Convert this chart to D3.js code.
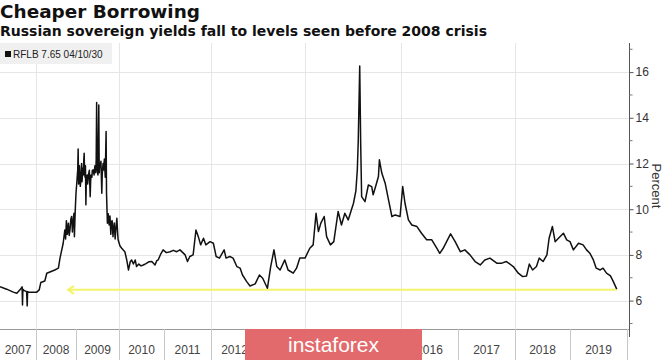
<!DOCTYPE html>
<html>
<head>
<meta charset="utf-8">
<script src="https://cdn.jsdelivr.net/npm/d3@7/dist/d3.min.js"></script>
<style>
  html, body { margin: 0; padding: 0; background: #fff; }
  svg { display: block; font-family: "Liberation Sans", Arial, sans-serif; }
</style>
</head>
<body>
<svg id="chart" width="665" height="360"></svg>
<script>
// ---------- DATA ----------
const title = "Cheaper Borrowing";
const subtitle = "Russian sovereign yields fall to levels seen before 2008 crisis";
const seriesName = "RFLB 7.65 04/10/30";
const yAxisTitle = "Percent";
const watermarkText = "instaforex";
const yearLabels = ["2007","2008","2009","2010","2011","2012","2013","2014","2015","2016","2017","2018","2019"];
const yMajorTicks = [6, 8, 10, 12, 14, 16];
const yMinorTicks = [5, 7, 9, 11, 13, 15, 17];
const gridYears = [2008, 2010, 2012, 2014, 2016, 2018];

// decimal year
const dates = [
  2007.08,2007.25,2007.42,2007.51,2007.59,2007.645,2007.655,2007.665,2007.69,2007.76,2007.775,2007.785,2007.80,
  2008.02,2008.08,2008.12,2008.22,2008.27,2008.47,2008.56,2008.60,2008.68,2008.72,2008.74,2008.76,2008.78,2008.79,2008.81,2008.83,2008.85,
  2008.87,2008.89,2008.91,2008.92,2008.94,2008.95,2008.96,2008.98,2009.00,2009.02,2009.04,2009.05,2009.06,2009.07,2009.08,2009.09,2009.10,2009.12,2009.13,2009.14,2009.16,2009.17,2009.18,2009.19,
  2009.20,2009.21,2009.22,2009.23,2009.24,2009.26,2009.27,2009.29,2009.31,2009.33,2009.34,2009.35,2009.37,2009.38,2009.40,2009.42,2009.44,2009.46,2009.47,2009.48,2009.49,2009.51,2009.53,2009.54,2009.55,2009.56,2009.58,2009.60,2009.61,2009.62,
  2009.63,2009.64,2009.66,2009.68,2009.70,2009.71,2009.73,2009.75,2009.77,2009.79,2009.81,2009.82,2009.84,2009.86,2009.87,2009.89,2009.91,2009.93,2009.95,2009.97,2009.98,
  2010.02,2010.06,2010.10,2010.13,2010.17,2010.21,2010.25,2010.28,2010.32,2010.36,2010.39,2010.44,2010.49,2010.54,2010.60,2010.66,2010.73,2010.80,2010.84,2010.87,2010.93,2010.98,
  2011.05,2011.13,2011.20,2011.27,2011.34,2011.45,2011.50,2011.55,2011.62,2011.68,2011.73,2011.78,2011.84,2011.89,2011.98,
  2012.05,2012.11,2012.18,2012.28,2012.32,2012.40,2012.47,2012.55,2012.62,2012.67,2012.76,2012.83,2012.94,
  2013.03,2013.10,2013.20,2013.27,2013.34,2013.40,2013.47,2013.57,2013.64,2013.75,2013.82,2013.89,
  2014.00,2014.10,2014.17,2014.23,2014.28,2014.33,2014.40,2014.45,2014.53,2014.60,2014.69,2014.76,2014.83,2014.90,
  2015.01,2015.06,2015.09,2015.11,2015.14,2015.16,2015.18,2015.25,2015.32,2015.39,2015.42,2015.48,2015.53,2015.55,2015.60,
  2015.67,2015.74,2015.81,2015.88,2015.98,
  2016.03,2016.07,2016.13,2016.19,2016.28,2016.36,2016.45,2016.54,2016.63,2016.68,2016.74,2016.80,2016.87,2016.95,
  2017.04,2017.12,2017.21,2017.30,2017.39,2017.47,2017.56,2017.68,2017.77,2017.85,2017.97,
  2018.06,2018.14,2018.21,2018.26,2018.32,2018.39,2018.44,2018.51,2018.58,2018.62,2018.68,2018.73,2018.79,2018.88,2018.94,
  2019.00,2019.06,2019.15,2019.23,2019.29,2019.35,2019.41,2019.46,2019.53,2019.58,2019.64,2019.71,2019.76,2019.82
];
const yields = [
  6.61,6.50,6.37,6.32,6.47,6.60,5.81,6.50,6.45,6.39,5.77,6.40,6.38,
  6.37,6.47,6.79,6.86,7.20,7.34,7.42,7.86,8.51,9.09,8.70,9.50,8.90,9.00,9.39,8.85,9.10,
  9.55,9.68,9.00,9.30,9.70,9.82,8.80,9.90,10.70,11.20,11.72,12.63,11.10,11.30,11.90,11.58,11.00,11.40,12.00,11.20,11.80,11.50,12.10,12.45,
  11.60,11.40,11.90,10.19,11.30,11.50,11.10,11.50,11.70,10.55,11.20,11.50,11.40,11.70,11.72,11.50,11.90,11.60,12.20,14.67,11.80,11.50,14.56,11.60,11.90,11.86,12.10,10.70,11.50,11.80,
  12.00,11.72,12.20,11.40,13.40,10.70,9.39,9.80,9.31,9.70,8.90,9.40,9.50,8.80,9.09,9.40,8.70,9.20,9.60,8.90,8.66,
  8.40,8.29,8.20,8.14,7.80,7.34,7.70,7.78,7.60,7.78,7.49,7.60,7.52,7.56,7.62,7.70,7.71,7.56,7.75,7.78,8.05,8.22,
  8.10,8.14,8.20,8.14,8.22,8.00,7.71,7.93,8.00,9.09,8.80,8.44,8.73,8.44,8.58,
  8.51,7.93,7.86,8.22,7.86,7.93,7.86,7.49,7.42,7.12,6.83,6.64,6.73,
  7.12,6.98,6.54,7.49,8.22,7.49,7.34,7.78,7.34,7.20,7.42,7.86,
  7.86,8.29,8.44,9.82,9.02,9.39,9.68,8.80,8.44,8.58,9.90,9.31,9.82,9.53,
  10.26,10.80,11.72,13.03,16.27,12.89,10.55,10.33,11.06,10.99,10.63,11.06,11.43,12.16,11.58,
  11.14,10.41,9.68,9.75,9.68,
  10.99,10.26,9.53,9.31,9.24,8.95,8.66,8.66,8.29,8.07,8.29,8.58,8.92,8.58,
  8.14,8.22,8.00,7.71,7.56,7.78,7.86,7.64,7.64,7.71,7.49,
  7.20,7.05,7.08,7.60,7.34,7.49,7.86,7.71,8.00,8.73,9.24,8.58,8.73,8.95,8.66,
  8.58,8.22,8.51,8.44,8.22,8.07,7.78,7.42,7.34,7.42,7.20,7.08,6.83,6.50
];
// yellow reference arrow (pre-2008 level)
const arrowLevel = 6.47;
const arrowFrom = 2019.82;
const arrowTo = 2008.80;

// ---------- LAYOUT ----------
const W = 665, H = 360;
const plotLeft = 0, plotRight = 629, plotTop = 43, plotBottom = 329;
// x axis: piecewise mapping of year boundaries (year widths are uneven in the source picture)
const xBreaks = [2007.08, 2008, 2009, 2010, 2011, 2012, 2013, 2014, 2015, 2016, 2017, 2018, 2019, 2020, 2020.035];
const xBreakPx = [0, 36, 76, 119, 164, 211, 258, 305, 353, 401, 458, 515, 570, 627, 629];
const wmX0 = 245, wmX1 = 422;

const svg = d3.select("#chart");
const x = d3.scaleLinear().domain(xBreaks).range(xBreakPx);
const y = d3.scaleLinear().domain([4.67, 17.23]).range([331, 44]);

// titles
svg.append("text").attr("x", 0).attr("y", 18)
  .attr("font-family", "'DejaVu Sans', Verdana, sans-serif")
  .attr("font-size", 18.5).attr("font-weight", "bold").attr("fill", "#111")
  .attr("textLength", 200).attr("lengthAdjust", "spacingAndGlyphs").text(title);
svg.append("text").attr("x", 0).attr("y", 35.5)
  .attr("font-family", "'DejaVu Sans', Verdana, sans-serif")
  .attr("font-size", 13.5).attr("font-weight", "bold").attr("fill", "#111")
  .attr("textLength", 487).attr("lengthAdjust", "spacingAndGlyphs").text(subtitle);

// grid
const grid = svg.append("g");
grid.selectAll("line.h").data(yMajorTicks).join("line")
  .attr("x1", plotLeft).attr("x2", plotRight)
  .attr("y1", d => Math.round(y(d)) + 0.5).attr("y2", d => Math.round(y(d)) + 0.5)
  .attr("stroke", "#e6e6e6").attr("stroke-width", 1);
grid.selectAll("line.v").data(gridYears).join("line")
  .attr("x1", d => Math.round(x(d)) + 0.5).attr("x2", d => Math.round(x(d)) + 0.5)
  .attr("y1", plotTop).attr("y2", plotBottom)
  .attr("stroke", "#e6e6e6").attr("stroke-width", 1);

// legend
const leg = svg.append("g");
leg.append("rect").attr("x", 0).attr("y", 43).attr("width", 112).attr("height", 21).attr("fill", "#f0f0f0");
leg.append("rect").attr("x", 5).attr("y", 51).attr("width", 6).attr("height", 6).attr("fill", "#111");
leg.append("text").attr("x", 13).attr("y", 58).attr("font-size", 10).attr("fill", "#222").text(seriesName);

// x-axis bottom area
svg.append("line").attr("x1", 0).attr("x2", plotRight).attr("y1", plotBottom + 0.5).attr("y2", plotBottom + 0.5)
  .attr("stroke", "#9a9a9a");
const sepYears = xBreaks.slice(1, 14);
svg.selectAll("line.sep").data(sepYears).join("line")
  .attr("x1", d => Math.round(x(d)) + 0.5).attr("x2", d => Math.round(x(d)) + 0.5)
  .attr("y1", plotBottom).attr("y2", H)
  .attr("stroke", "#c8c8c8");
const labelX = d => { const a = Math.max(x(+d), 0), b = x(+d + 1); return (a + b) / 2; };
// labels hidden under the watermark box in the source are not drawn
svg.selectAll("text.year").data(yearLabels.filter(d => labelX(d) < wmX0 || labelX(d) > wmX1)).join("text")
  .attr("x", labelX)
  .attr("y", 354).attr("text-anchor", "middle").attr("font-size", 12).attr("fill", "#444")
  .text(d => d);

// y axis on right
const yAxis = d3.axisRight(y).tickValues(yMajorTicks).tickSize(4).tickPadding(2).tickFormat(d3.format("d"));
const gy = svg.append("g").attr("transform", `translate(${plotRight + 0.5},0)`).call(yAxis);
gy.select(".domain").attr("stroke", "#555").attr("d", `M0,${plotTop}V${plotBottom + 8}`);
gy.selectAll(".tick line").attr("stroke", "#555");
gy.selectAll(".tick text").attr("font-size", 12).attr("fill", "#333")
  .attr("font-family", "'Liberation Sans', Arial, sans-serif");
gy.selectAll("line.minor").data(yMinorTicks).join("line")
  .attr("x1", 0).attr("x2", 3).attr("y1", d => y(d)).attr("y2", d => y(d)).attr("stroke", "#777");
svg.append("text").attr("transform", `translate(652,186) rotate(90)`)
  .attr("text-anchor", "middle").attr("font-size", 13).attr("fill", "#333").text(yAxisTitle);

// yellow arrow
const ay = y(arrowLevel);
svg.append("line").attr("x1", x(arrowFrom)).attr("x2", x(arrowTo) + 1)
  .attr("y1", ay).attr("y2", ay).attr("stroke", "#f4f46a").attr("stroke-width", 2);
svg.append("path")
  .attr("d", `M${x(arrowTo) + 6},${ay - 4} L${x(arrowTo)},${ay} L${x(arrowTo) + 6},${ay + 4}`)
  .attr("fill", "none").attr("stroke", "#f4f46a").attr("stroke-width", 2);

// series line
const pts = dates.map((d, i) => [d, yields[i]]);
svg.append("path").datum(pts)
  .attr("d", d3.line().x(d => x(d[0])).y(d => y(d[1])))
  .attr("fill", "none").attr("stroke", "#111").attr("stroke-width", 1.5).attr("stroke-linejoin", "round");

// watermark
const wm = svg.append("g");
wm.append("rect").attr("x", wmX0).attr("y", 329).attr("width", wmX1 - wmX0).attr("height", 31).attr("fill", "#e36a6c");
wm.append("text").attr("x", (wmX0 + wmX1) / 2).attr("y", 352).attr("text-anchor", "middle")
  .attr("font-size", 21).attr("fill", "#fff").text(watermarkText);
</script>
</body>
</html>
